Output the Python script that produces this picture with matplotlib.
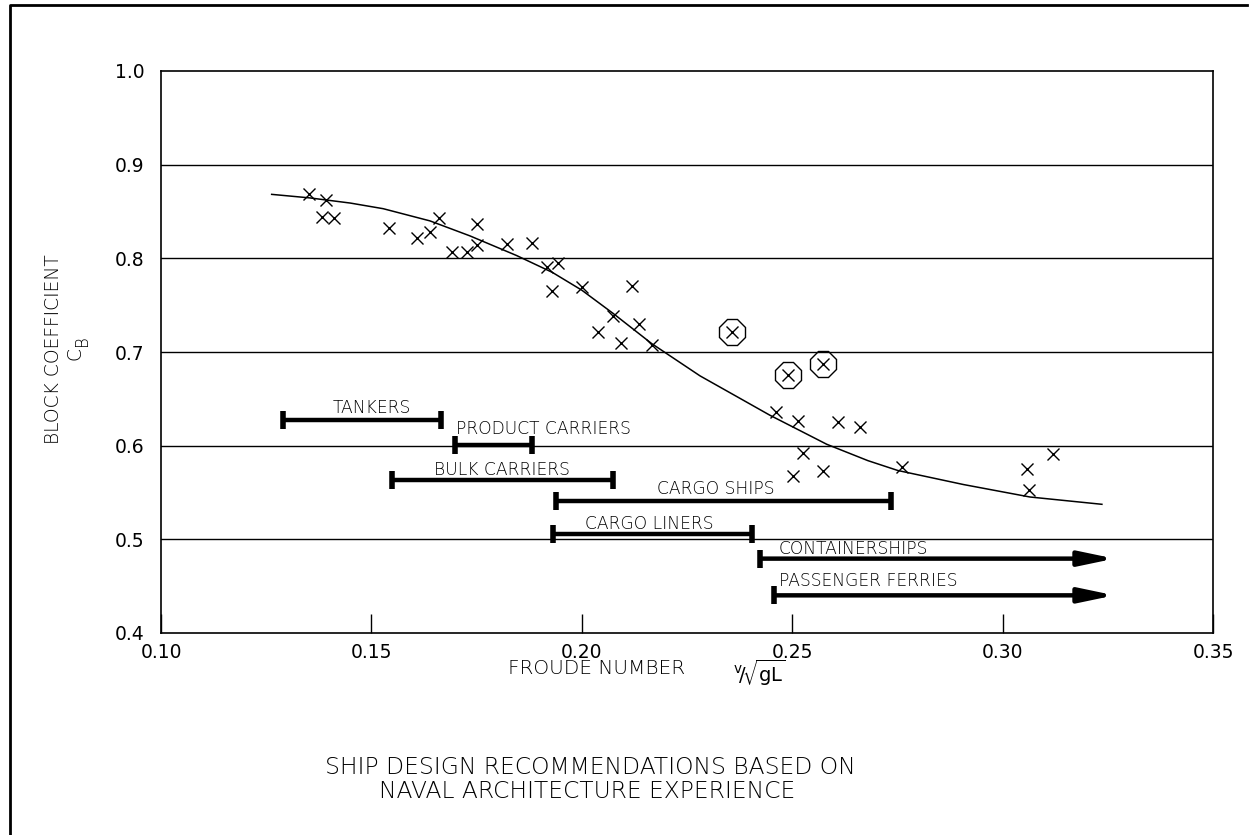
import numpy as np
import matplotlib
matplotlib.use('Agg')
import matplotlib.pyplot as plt
from matplotlib.lines import Line2D

# ship data points (Froude number, block coefficient)
fn_pts = [0.1352, 0.1392, 0.1382, 0.1412, 0.1543, 0.1608, 0.1639, 0.1661, 0.1752, 0.1691,
          0.1726, 0.1752, 0.1823, 0.1881, 0.1918, 0.1944, 0.1929, 0.2000, 0.2120, 0.2075,
          0.2039, 0.2093, 0.2136, 0.2166, 0.2461, 0.2513, 0.2609, 0.2662, 0.2525, 0.2503,
          0.2573, 0.2760, 0.3059, 0.3119, 0.3063]
cb_pts = [0.8686, 0.8622, 0.8443, 0.8426, 0.8319, 0.8213, 0.8283, 0.8426, 0.8365, 0.8069,
          0.8069, 0.8141, 0.8149, 0.8166, 0.7909, 0.7946, 0.7653, 0.7696, 0.7703, 0.7386,
          0.7215, 0.7097, 0.7294, 0.7080, 0.6360, 0.6266, 0.6253, 0.6197, 0.5921, 0.5678,
          0.5734, 0.5767, 0.5755, 0.5915, 0.5524]

# circled points
fn_circ = [0.2358, 0.2491, 0.2574]
cb_circ = [0.7215, 0.6752, 0.6877]

# recommended curve
fn_curve = [0.1263, 0.1354, 0.1450, 0.1528, 0.1639, 0.1734, 0.1845, 0.1930, 0.2000, 0.2075,
            0.2166, 0.2281, 0.2370, 0.2447, 0.2582, 0.2680, 0.2751, 0.2907, 0.3065, 0.3236]
cb_curve = [0.8683, 0.8645, 0.8590, 0.8530, 0.8400, 0.8240, 0.8030, 0.7850, 0.7660, 0.7410,
            0.7090, 0.6745, 0.6520, 0.6325, 0.6015, 0.5840, 0.5735, 0.5585, 0.5452, 0.5374]

# ship type ranges
ship_types = ['TANKERS', 'PRODUCT CARRIERS', 'BULK CARRIERS', 'CARGO SHIPS', 'CARGO LINERS',
              'CONTAINERSHIPS', 'PASSENGER FERRIES']
fn_lo = [0.1289, 0.1698, 0.1550, 0.1938, 0.1932, 0.2424, 0.2457]
fn_hi = [0.1665, 0.1881, 0.2075, 0.2735, 0.2404, 0.3266, 0.3266]
cb_bar = [0.6279, 0.6004, 0.5638, 0.5409, 0.5053, 0.4794, 0.4402]
open_ended = [False, False, False, False, False, True, True]
lbl_x = [0.1500, 0.1908, 0.1810, 0.2318, 0.2160, 0.2645, 0.2681]
lbl_y = [0.6407, 0.6183, 0.5745, 0.5542, 0.5168, 0.4901, 0.4551]

xticks = [0.10, 0.15, 0.20, 0.25, 0.30, 0.35]
yticks = [0.4, 0.5, 0.6, 0.7, 0.8, 0.9, 1.0]

plt.rcParams['font.family'] = ['DejaVu Sans']
fig = plt.figure(figsize=(12.57, 8.35), dpi=100)
ax = fig.add_axes([161/1257, 1-633/835, (1213-161)/1257, (633-71)/835])

ax.set_xlim(0.10, 0.35)
ax.set_ylim(0.4, 1.0)
for y in yticks[1:-1]:
    ax.axhline(y, color='black', lw=1.0, zorder=1)

ax.plot(fn_curve, cb_curve, color='black', lw=1.1, zorder=3)
ax.plot(fn_pts, cb_pts, ls='none', marker='x', ms=9, mew=1.0, color='black', zorder=3)
ax.plot(fn_circ, cb_circ, ls='none', marker='x', ms=9, mew=1.0, color='black', zorder=3)
ax.plot(fn_circ, cb_circ, ls='none', marker='8', ms=19.5, mew=1.0, mfc='none', mec='black', zorder=3)

for i in range(len(ship_types)):
    if open_ended[i]:
        ax.annotate('', xy=(fn_hi[i], cb_bar[i]), xytext=(fn_lo[i], cb_bar[i]),
                    arrowprops=dict(arrowstyle='-|>,head_length=1.05,head_width=0.22',
                                    mutation_scale=20, lw=3.2, color='black',
                                    shrinkA=0, shrinkB=0), zorder=4)
        ax.plot([fn_lo[i]], [cb_bar[i]], marker='|', ms=13, mew=4, color='black', zorder=4)
    else:
        ax.plot([fn_lo[i], fn_hi[i]], [cb_bar[i], cb_bar[i]], color='black', lw=3.2,
                solid_capstyle='butt', zorder=4)
        ax.plot([fn_lo[i], fn_hi[i]], [cb_bar[i], cb_bar[i]], ls='none', marker='|',
                ms=13, mew=4, color='black', zorder=4)
    ax.text(lbl_x[i], lbl_y[i], ship_types[i], ha='center', va='center',
            fontsize=12.3, fontweight='light', zorder=5)

ax.set_xticks(xticks)
ax.set_xticklabels(['%.2f' % v for v in xticks])
ax.set_yticks(yticks)
ax.set_yticklabels(['%.1f' % v for v in yticks])
ax.tick_params(axis='x', direction='in', length=14, width=1.0, pad=7, labelsize=13.5)
ax.tick_params(axis='y', length=0, pad=12, labelsize=13.5)
for s in ax.spines.values():
    s.set_linewidth(1.2)

fig.text(685/1257, 1-669/835, 'FROUDE NUMBER', ha='right', va='center', fontsize=14.5,
         fontweight='light')
fig.text(733/1257, 1-673/835, r'$^\mathregular{v}\!/\!\sqrt{\mathregular{gL}}$', ha='left',
         va='center', fontsize=14)

fig.text(54/1257, 1-349/835, 'BLOCK COEFFICIENT', rotation=90, ha='center', va='center',
         fontsize=13.5, fontweight='light')
fig.text(75/1257, 1-354/835, 'C', rotation=90, ha='center', va='center', fontsize=13.5,
         fontweight='light')
fig.text(82/1257, 1-341/835, 'B', rotation=90, ha='center', va='center', fontsize=12,
         fontweight='light')

fig.text(590/1257, 1-767/835, 'SHIP DESIGN RECOMMENDATIONS BASED ON', ha='center',
         va='center', fontsize=16.8, fontweight='light')
fig.text(587/1257, 1-792/835, 'NAVAL ARCHITECTURE EXPERIENCE', ha='center',
         va='center', fontsize=16.8, fontweight='light')

# drawing border
fig.add_artist(Line2D([9.5/1257, 9.5/1257, 1247/1257], [0, 1-5/835, 1-5/835],
                      transform=fig.transFigure, color='black', lw=2))

fig.savefig('out.png', dpi=100)
